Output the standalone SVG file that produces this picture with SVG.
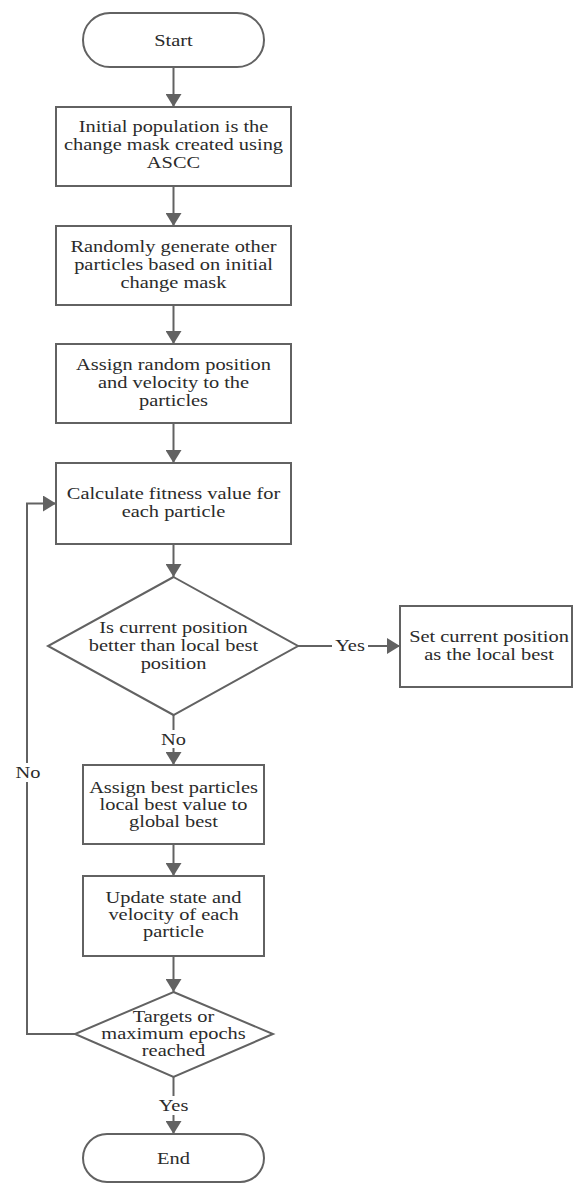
<svg xmlns="http://www.w3.org/2000/svg" width="573" height="1184" viewBox="0 0 573 1184">
<style>
.s{fill:#fff;stroke:#626262;stroke-width:2}
.c{fill:none;stroke:#626262;stroke-width:2}
.t{font-family:"Liberation Serif","Times New Roman",serif;font-size:17px;fill:#2b2b2b;text-anchor:middle}
.bg{fill:#fff}
</style>
<defs>
<marker id="ah" markerUnits="userSpaceOnUse" markerWidth="13" markerHeight="16" viewBox="0 0 13 16" refX="13" refY="8" orient="auto">
<path d="M0,0 L13,8 L0,16 z" fill="#626262"/>
</marker>
</defs>
<rect width="573" height="1184" fill="#fff"/>
<g id="connectors">
<line class="c" x1="173.5" y1="67" x2="173.5" y2="107" marker-end="url(#ah)"/>
<line class="c" x1="173.5" y1="186" x2="173.5" y2="226" marker-end="url(#ah)"/>
<line class="c" x1="173.5" y1="305" x2="173.5" y2="344" marker-end="url(#ah)"/>
<line class="c" x1="173.5" y1="423" x2="173.5" y2="463" marker-end="url(#ah)"/>
<line class="c" x1="173.5" y1="544" x2="173.5" y2="577" marker-end="url(#ah)"/>
<line class="c" x1="298" y1="646" x2="400" y2="646" marker-end="url(#ah)"/>
<line class="c" x1="173.5" y1="715" x2="173.5" y2="765" marker-end="url(#ah)"/>
<line class="c" x1="173.5" y1="844" x2="173.5" y2="876" marker-end="url(#ah)"/>
<line class="c" x1="173.5" y1="956" x2="173.5" y2="992" marker-end="url(#ah)"/>
<line class="c" x1="173.5" y1="1077" x2="173.5" y2="1134" marker-end="url(#ah)"/>
<polyline class="c" points="75,1034 27,1034 27,503.5 56,503.5" marker-end="url(#ah)"/>
<rect class="bg" x="332" y="636" width="36" height="20"/>
<text class="t" transform="translate(350 0) scale(1.2 1)" x="0" y="651">Yes</text>
<rect class="bg" x="159" y="730" width="29" height="18"/>
<text class="t" transform="translate(173.5 0) scale(1.2 1)" x="0" y="745">No</text>
<rect class="bg" x="13" y="763" width="30" height="19"/>
<text class="t" transform="translate(28 0) scale(1.2 1)" x="0" y="778">No</text>
<rect class="bg" x="155" y="1096" width="37" height="19"/>
<text class="t" transform="translate(173.5 0) scale(1.2 1)" x="0" y="1111">Yes</text>
</g>
<g id="start">
<rect class="s" x="83" y="13" width="181" height="54" rx="27"/>
<g transform="translate(173.5 0) scale(1.2 1)"><text class="t" x="0" y="46">Start</text></g>
</g>
<g id="init">
<rect class="s" x="56" y="107" width="235" height="79"/>
<g transform="translate(173.5 0) scale(1.2 1)">
<text class="t" x="0" y="132">Initial population is the</text>
<text class="t" x="0" y="150">change mask created using</text>
<text class="t" x="0" y="168">ASCC</text>
</g>
</g>
<g id="generate">
<rect class="s" x="56" y="226" width="235" height="79"/>
<g transform="translate(173.5 0) scale(1.2 1)">
<text class="t" x="0" y="252">Randomly generate other</text>
<text class="t" x="0" y="270">particles based on initial</text>
<text class="t" x="0" y="288">change mask</text>
</g>
</g>
<g id="assign">
<rect class="s" x="56" y="344" width="235" height="79"/>
<g transform="translate(173.5 0) scale(1.2 1)">
<text class="t" x="0" y="370">Assign random position</text>
<text class="t" x="0" y="388">and velocity to the</text>
<text class="t" x="0" y="406">particles</text>
</g>
</g>
<g id="fitness">
<rect class="s" x="56" y="463" width="235" height="81"/>
<g transform="translate(173.5 0) scale(1.2 1)">
<text class="t" x="0" y="499">Calculate fitness value for</text>
<text class="t" x="0" y="517">each particle</text>
</g>
</g>
<g id="decision1">
<polygon class="s" points="173.5,577 298,646 173.5,715 48,646"/>
<g transform="translate(173.5 0) scale(1.2 1)">
<text class="t" x="0" y="633">Is current position</text>
<text class="t" x="0" y="651">better than local best</text>
<text class="t" x="0" y="669">position</text>
</g>
</g>
<g id="setlocal">
<rect class="s" x="400" y="606" width="172" height="81"/>
<g transform="translate(489 0) scale(1.2 1)">
<text class="t" x="0" y="642">Set current position</text>
<text class="t" x="0" y="660">as the local best</text>
</g>
</g>
<g id="global">
<rect class="s" x="83" y="765" width="181" height="79"/>
<g transform="translate(173.5 0) scale(1.2 1)">
<text class="t" x="0" y="793">Assign best particles</text>
<text class="t" x="0" y="810">local best value to</text>
<text class="t" x="0" y="827">global best</text>
</g>
</g>
<g id="update">
<rect class="s" x="83" y="876" width="181" height="80"/>
<g transform="translate(173.5 0) scale(1.2 1)">
<text class="t" x="0" y="903">Update state and</text>
<text class="t" x="0" y="920">velocity of each</text>
<text class="t" x="0" y="937">particle</text>
</g>
</g>
<g id="decision2">
<polygon class="s" points="173.5,992 273,1034 173.5,1077 75,1034"/>
<g transform="translate(173.5 0) scale(1.2 1)">
<text class="t" x="0" y="1022">Targets or</text>
<text class="t" x="0" y="1039">maximum epochs</text>
<text class="t" x="0" y="1056">reached</text>
</g>
</g>
<g id="end">
<rect class="s" x="83" y="1134" width="181" height="48" rx="24"/>
<g transform="translate(173.5 0) scale(1.2 1)"><text class="t" x="0" y="1164">End</text></g>
</g>
</svg>
